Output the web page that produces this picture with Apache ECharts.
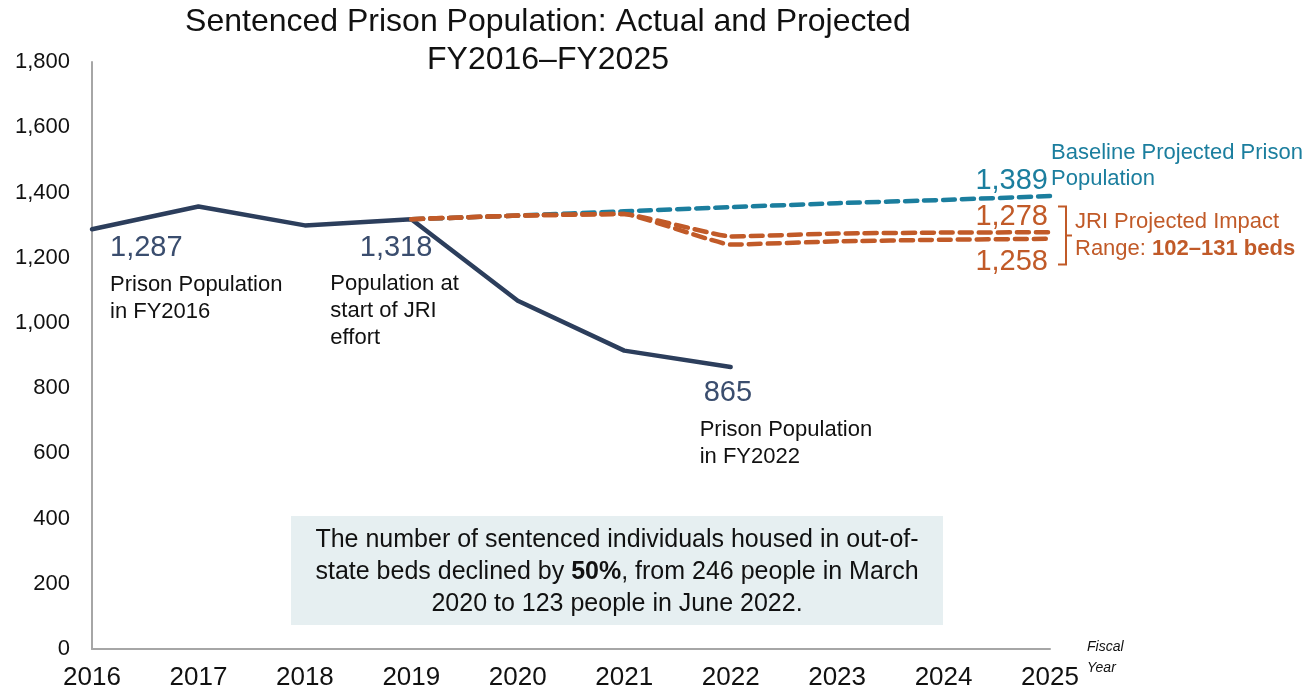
<!DOCTYPE html>
<html>
<head>
<meta charset="utf-8">
<script src="https://cdn.jsdelivr.net/npm/echarts@6/dist/echarts.min.js"></script>
<style>
  html, body { margin: 0; padding: 0; background: #ffffff; }
  #chart { width: 1310px; height: 691px; }
</style>
</head>
<body>
<div id="chart"></div>
<script>
// Fiscal years on the horizontal axis
const years = ['2016', '2017', '2018', '2019', '2020', '2021', '2022', '2023', '2024', '2025'];

// Sentenced prison population, actual counts
const actual = [1287, 1357, 1299, 1318, 1068, 915, 865, null, null, null];

// Baseline projection (no reinvestment policies)
const baseline = [null, null, null, 1318, 1329, 1342, 1355, 1367, 1377, 1389];

// JRI projected impact range: upper and lower bounds
const jriUpper = [null, null, null, 1318, 1329, 1334, 1265, 1274, 1277, 1278];
const jriLower = [null, null, null, 1318, 1329, 1334, 1240, 1250, 1255, 1258];

// Value axis ticks
const yTicks = [0, 200, 400, 600, 800, 1000, 1200, 1400, 1600, 1800];

const NAVY = '#2C3E5C';
const NAVY_TEXT = '#3A4D6E';
const TEAL = '#1B7E9E';
const ORANGE = '#C15A28';
const FONT = '"Liberation Sans", Arial, sans-serif';
const NARROW = '"Liberation Sans Narrow", "Liberation Sans", Arial, sans-serif';

const fmt = v => Number(v).toLocaleString('en-US');

// Value label style shared by the point annotations
const valueLabel = (color, align, offset) => ({
  show: true,
  position: 'inside',
  color: color,
  fontFamily: FONT,
  fontSize: 29,
  align: align,
  verticalAlign: 'middle',
  offset: offset,
  formatter: p => fmt(p.value)
});

// Attach labels to selected data points of a series
function withLabels(arr, labels) {
  return arr.map((v, i) => labels[i] ? { value: v, label: labels[i] } : v);
}

const dashed = (color) => ({ color: color, width: 4.5, type: [12, 7], cap: 'round' });

const lineBase = {
  type: 'line',
  symbol: 'circle',
  symbolSize: 0.1,
  showAllSymbol: true,
  connectNulls: false
};

const chart = echarts.init(document.getElementById('chart'), null, { renderer: 'canvas' });

chart.setOption({
  animation: false,
  backgroundColor: '#ffffff',
  grid: { left: 92, right: 260, top: 62, bottom: 41, containLabel: false },
  xAxis: {
    type: 'category',
    data: years,
    boundaryGap: false,
    axisLine: { show: true, lineStyle: { color: '#A6A6A6', width: 2 } },
    axisTick: { show: false },
    axisLabel: { color: '#111111', fontFamily: NARROW, fontSize: 26, margin: 16 }
  },
  yAxis: {
    type: 'value',
    min: yTicks[0],
    max: yTicks[yTicks.length - 1],
    interval: yTicks[1] - yTicks[0],
    axisLine: { show: true, lineStyle: { color: '#A6A6A6', width: 2 } },
    axisTick: { show: false },
    splitLine: { show: false },
    axisLabel: { color: '#111111', fontFamily: FONT, fontSize: 22, margin: 22, formatter: v => fmt(v) }
  },
  series: [
    Object.assign({}, lineBase, {
      name: 'Actual',
      data: withLabels(actual, {
        0: valueLabel(NAVY_TEXT, 'left', [18, 19]),
        3: valueLabel(NAVY_TEXT, 'right', [21, 29]),
        6: valueLabel(NAVY_TEXT, 'left', [-27, 26])
      }),
      smooth: false,
      lineStyle: { color: NAVY, width: 4.5, cap: 'round', join: 'round' },
      itemStyle: { color: NAVY },
      z: 2
    }),
    Object.assign({}, lineBase, {
      name: 'Baseline',
      data: withLabels(baseline, { 9: valueLabel(TEAL, 'right', [-2, -15]) }),
      smooth: 0.1,
      lineStyle: dashed(TEAL),
      itemStyle: { color: TEAL },
      z: 3
    }),
    Object.assign({}, lineBase, {
      name: 'JRI lower',
      data: withLabels(jriLower, { 9: valueLabel(ORANGE, 'right', [-2, 23]) }),
      smooth: 0.1,
      lineStyle: dashed(ORANGE),
      itemStyle: { color: ORANGE },
      z: 4
    }),
    Object.assign({}, lineBase, {
      name: 'JRI upper',
      data: withLabels(jriUpper, { 9: valueLabel(ORANGE, 'right', [-2, -15]) }),
      smooth: 0.1,
      lineStyle: dashed(ORANGE),
      itemStyle: { color: ORANGE },
      z: 5
    })
  ]
});

// Annotations placed relative to the data points
const px = (i, v) => chart.convertToPixel({ seriesIndex: 0 }, [i, v]);
const p2016 = px(0, actual[0]);
const p2019 = px(3, actual[3]);
const p2022 = px(6, actual[6]);
const pUp = px(9, jriUpper[9]);
const pLo = px(9, jriLower[9]);
const pBase = px(9, baseline[9]);

const note = (x, y, text, extra) => ({
  type: 'text', x: x, y: y, silent: true,
  style: Object.assign({ text: text, fill: '#111111', font: '22px ' + FONT, lineHeight: 27, align: 'left', verticalAlign: 'top' }, extra || {})
});

const bx = pUp[0] + 8;
const midY = (pUp[1] + pLo[1]) / 2;

chart.setOption({
  graphic: [
    {
      type: 'text', x: 548, y: 3, silent: true,
      style: {
        text: 'Sentenced Prison Population: Actual and Projected\nFY2016–FY2025',
        fill: '#111111', font: '32px ' + FONT, lineHeight: 38, align: 'center', verticalAlign: 'top'
      }
    },
    note(p2016[0] + 18, p2016[1] + 42, 'Prison Population\nin FY2016'),
    note(p2019[0] - 81, p2019[1] + 51, 'Population at\nstart of JRI\neffort'),
    note(p2022[0] - 31, p2022[1] + 50, 'Prison Population\nin FY2022'),
    note(pBase[0] + 1, 140, 'Baseline Projected Prison\nPopulation', { fill: TEAL, font: '22px ' + FONT, lineHeight: 26 }),
    {
      type: 'polyline', silent: true,
      shape: { points: [[bx, midY - 29], [bx + 8, midY - 29], [bx + 8, midY + 29], [bx, midY + 29]] },
      style: { stroke: ORANGE, lineWidth: 2, fill: null }
    },
    {
      type: 'line', silent: true,
      shape: { x1: bx + 8, y1: midY, x2: bx + 14, y2: midY },
      style: { stroke: ORANGE, lineWidth: 2 }
    },
    {
      type: 'text', x: bx + 17, y: midY - 27, silent: true,
      style: {
        text: '{n|JRI Projected Impact}\n{n|Range: }{b|102–131 beds}',
        align: 'left', verticalAlign: 'top',
        rich: {
          n: { fill: ORANGE, font: '22px ' + FONT, lineHeight: 27 },
          b: { fill: ORANGE, font: 'bold 22px ' + FONT, lineHeight: 27 }
        }
      }
    },
    {
      type: 'rect', silent: true, z: -1,
      shape: { x: 291, y: 516, width: 652, height: 109 },
      style: { fill: '#E6EFF1' }
    },
    {
      type: 'text', x: 617, y: 524, silent: true,
      style: {
        text: '{t|The number of sentenced individuals housed in out-of-}\n{t|state beds declined by }{b|50%}{t|, from 246 people in March}\n{t|2020 to 123 people in June 2022.}',
        align: 'center', verticalAlign: 'top',
        rich: {
          t: { fill: '#111111', font: '25px ' + NARROW, lineHeight: 32 },
          b: { fill: '#111111', font: 'bold 25px ' + NARROW, lineHeight: 32 }
        }
      }
    },
    {
      type: 'text', x: 1087, y: 637, silent: true,
      style: { text: 'Fiscal\nYear', fill: '#111111', font: 'italic 14px ' + FONT, lineHeight: 21, align: 'left', verticalAlign: 'top' }
    }
  ]
});
</script>
</body>
</html>
